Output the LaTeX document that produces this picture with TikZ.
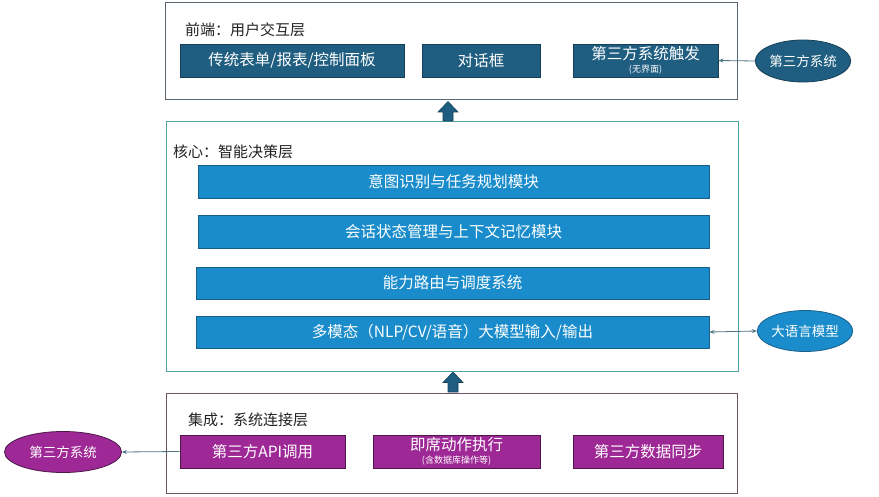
\documentclass[tikz,border=0pt]{standalone}
\usepackage{fontspec}
\setmainfont{Noto Sans CJK SC}
\usetikzlibrary{arrows.meta,shapes.geometric}
\definecolor{topfill}{HTML}{1F5E80}
\definecolor{topedge}{HTML}{163F56}
\definecolor{midfill}{HTML}{1A8CCB}
\definecolor{midedge}{HTML}{1A5E8A}
\definecolor{botfill}{HTML}{9E2896}
\definecolor{botedge}{HTML}{4D1747}
\definecolor{lineclr}{HTML}{4F7585}
\definecolor{frametop}{HTML}{5A6572}
\definecolor{framemid}{HTML}{4FA3A3}
\definecolor{framebot}{HTML}{6E5566}
\definecolor{lbltext}{HTML}{222222}
\newcommand\subtxt{\fontsize{9}{10}\selectfont}
\begin{document}
\begin{tikzpicture}[x=1pt,y=-1pt,
  frame/.style={draw, line width=1pt, fill=white, rectangle, inner sep=0pt},
  lbl/.style={anchor=west, text=lbltext, font=\fontsize{15}{17}\selectfont, inner sep=0pt},
  box/.style={rectangle, draw, line width=0.8pt, text=white, inner sep=0pt, align=center, font=\fontsize{15.5}{17}\selectfont},
  topbox/.style={box, fill=topfill, draw=topedge},
  midbox/.style={box, fill=midfill, draw=midedge},
  botbox/.style={box, fill=botfill, draw=botedge},
  ext/.style={ellipse, draw, line width=0.8pt, text=white, inner sep=0pt, font=\fontsize{13.5}{15}\selectfont},
  conn/.style={draw=lineclr, line width=0.8pt, -{Stealth[length=5pt,width=4pt]}}
]
\useasboundingbox (0,0) rectangle (879,497);
\fill[white] (0,0) rectangle (879,497);

% ---------- front layer ----------
\node[frame, draw=frametop, minimum width=572pt, minimum height=97pt] (front) at (451,51.5) {};
\node[lbl] (frontlbl) at (185,30) {前端：用户交互层};
\node[topbox, minimum width=224pt, minimum height=33pt] (t1) at (292,60.5) {传统表单/报表/控制面板};
\node[topbox, minimum width=118pt, minimum height=33pt] (t2) at (481,60.5) {对话框};
\node[topbox, minimum width=145pt, minimum height=33pt] (t3) at (645.5,60.5) {第三方系统触发\\[-4pt]{\subtxt (无界面)}};
\node[ext, fill=topfill, draw=topedge, minimum width=95pt, minimum height=42pt] (e1) at (803,61) {第三方系统};
\draw[conn] (e1.west) -- (t3.east);

% ---------- core layer ----------
\node[frame, draw=framemid, minimum width=572pt, minimum height=249pt] (core) at (452,246.5) {};
\node[lbl] (corelbl) at (173,152) {核心：智能决策层};
\node[midbox, minimum width=511pt, minimum height=33pt] (m1) at (453.5,181.5) {意图识别与任务规划模块};
\node[midbox, minimum width=511pt, minimum height=33pt] (m2) at (453.5,231.5) {会话状态管理与上下文记忆模块};
\node[midbox, minimum width=513pt, minimum height=32pt] (m3) at (452.5,283) {能力路由与调度系统};
\node[midbox, minimum width=513pt, minimum height=32pt] (m4) at (452.5,332) {多模态（NLP/CV/语音）大模型输入/输出};
\node[ext, fill=midfill, draw=midedge, minimum width=95pt, minimum height=41pt] (e2) at (805,331) {大语言模型};
\draw[conn, {Stealth[length=5pt,width=4pt]}-{Stealth[length=5pt,width=4pt]}] (m4.east) -- (e2.west);

% ---------- integration layer ----------
\node[frame, draw=framebot, minimum width=571pt, minimum height=100pt] (integ) at (451.5,443) {};
\node[lbl] (integlbl) at (188,420) {集成：系统连接层};
\node[botbox, minimum width=165pt, minimum height=33pt] (b1) at (262.5,451.5) {第三方API调用};
\node[botbox, minimum width=167pt, minimum height=33pt] (b2) at (456.5,451.5) {即席动作执行\\[-4pt]{\subtxt (含数据库操作等)}};
\node[botbox, minimum width=150pt, minimum height=33pt] (b3) at (648,451.5) {第三方数据同步};
\node[ext, fill=botfill, draw=botedge, minimum width=117pt, minimum height=41pt] (e3) at (63,452) {第三方系统};
\draw[conn] (b1.west) -- (e3.east);

% ---------- block arrows ----------
\filldraw[fill=topfill, draw=topedge, line width=0.6pt]
  (448,101.5) -- (458,112) -- (453,112) -- (453,121) -- (443,121) -- (443,112) -- (438,112) -- cycle;
\filldraw[fill=topfill, draw=topedge, line width=0.6pt]
  (453,372) -- (463,382.5) -- (458,382.5) -- (458,392) -- (448,392) -- (448,382.5) -- (443,382.5) -- cycle;
\end{tikzpicture}
\end{document}
